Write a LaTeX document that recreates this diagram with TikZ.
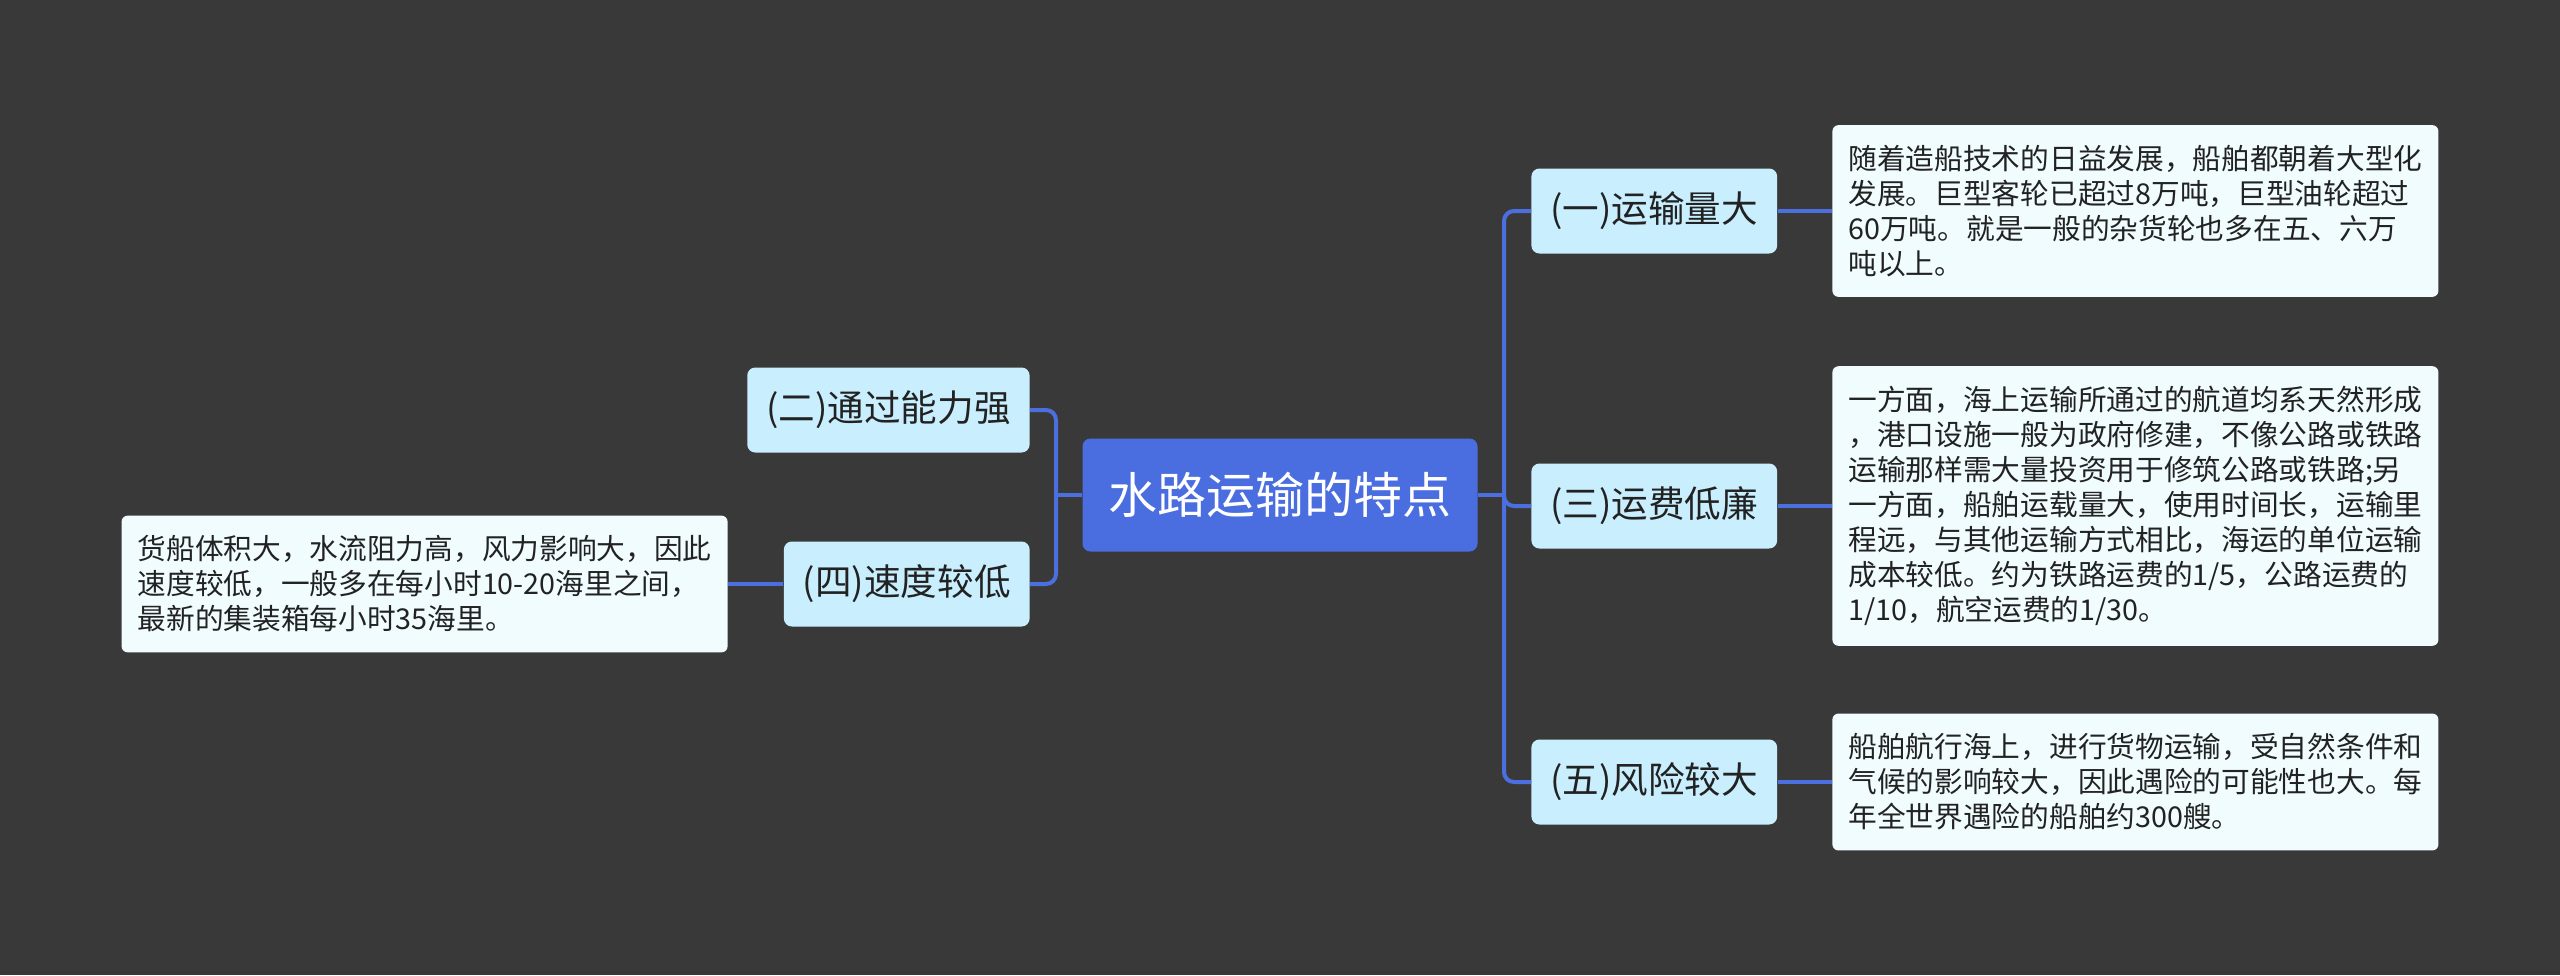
\documentclass[tikz,border=0pt]{standalone}
\usepackage{fontspec}
\setmainfont{Noto Sans CJK SC}
\usepackage{xcolor}
\usepackage{tikz}
\usetikzlibrary{positioning}
\definecolor{BgDark}{HTML}{3A393A}
\definecolor{RootBlue}{HTML}{4A6EE0}
\definecolor{LinkBlue}{HTML}{4C6FE0}
\definecolor{TopicCyan}{HTML}{C9EFFE}
\definecolor{NoteWhite}{HTML}{F0FCFE}
\definecolor{nInk}{HTML}{222222}

\begin{document}
\begin{tikzpicture}[x=0.5pt, y=-0.5pt,
    rootbox/.style={fill=RootBlue, text=white, rounded corners=4pt, inner xsep=13pt, minimum height=56.5pt, font=\fontsize{24.5pt}{28pt}\selectfont},
    topicbox/.style={fill=TopicCyan, text=nInk, rounded corners=4pt, inner xsep=9.5pt, minimum height=42.5pt, font=\fontsize{18.3pt}{22pt}\selectfont},
    notebox/.style={fill=NoteWhite, text=nInk, rounded corners=3pt, inner xsep=8pt, inner ysep=10pt, align=left, font=\fontsize{14.35pt}{17.5pt}\selectfont},
    link/.style={draw=LinkBlue, line width=2pt, rounded corners=5pt}]
  \fill[BgDark] (0,0) rectangle (2560,975);
  \useasboundingbox (0,0) rectangle (2560,975);
  % root and topics
  \node[rootbox] (root) at (1280,495) {水路运输的特点};
  \node[topicbox, anchor=west] (t1) at (1531,211) {(一)运输量大};
  \node[topicbox, anchor=west] (t3) at (1531,506) {(三)运费低廉};
  \node[topicbox, anchor=west] (t5) at (1531,782) {(五)风险较大};
  \node[topicbox, anchor=east] (t2) at (1030,410) {(二)通过能力强};
  \node[topicbox, anchor=east] (t4) at (1030,584) {(四)速度较低};
  % notes
  \node[notebox, anchor=west] (n1) at (1832,211) {随着造船技术的日益发展，船舶都朝着大型化\\发展。巨型客轮已超过8万吨，巨型油轮超过\\60万吨。就是一般的杂货轮也多在五、六万\\吨以上。};
  \node[notebox, anchor=west] (n3) at (1832,506) {一方面，海上运输所通过的航道均系天然形成\\，港口设施一般为政府修建，不像公路或铁路\\运输那样需大量投资用于修筑公路或铁路;另\\一方面，船舶运载量大，使用时间长，运输里\\程远，与其他运输方式相比，海运的单位运输\\成本较低。约为铁路运费的1/5，公路运费的\\1/10，航空运费的1/30。};
  \node[notebox, anchor=west] (n5) at (1832,782) {船舶航行海上，进行货物运输，受自然条件和\\气候的影响较大，因此遇险的可能性也大。每\\年全世界遇险的船舶约300艘。};
  \node[notebox, anchor=east] (n4) at (728,584) {货船体积大，水流阻力高，风力影响大，因此\\速度较低，一般多在每小时10-20海里之间，\\最新的集装箱每小时35海里。};
  % connectors
  \coordinate (busR) at (1504,495);
  \coordinate (busL) at (1056,495);
  \draw[link] (root.east) -- (busR);
  \foreach \t in {t1,t3,t5}
    \draw[link] (busR) |- (\t.west);
  \draw[link] (root.west) -- (busL);
  \foreach \t in {t2,t4}
    \draw[link] (busL) |- (\t.east);
  \foreach \t/\n in {t1/n1,t3/n3,t5/n5}
    \draw[link] (\t.east) -- (\n.west);
  \draw[link] (t4.west) -- (n4.east);
\end{tikzpicture}
\end{document}
